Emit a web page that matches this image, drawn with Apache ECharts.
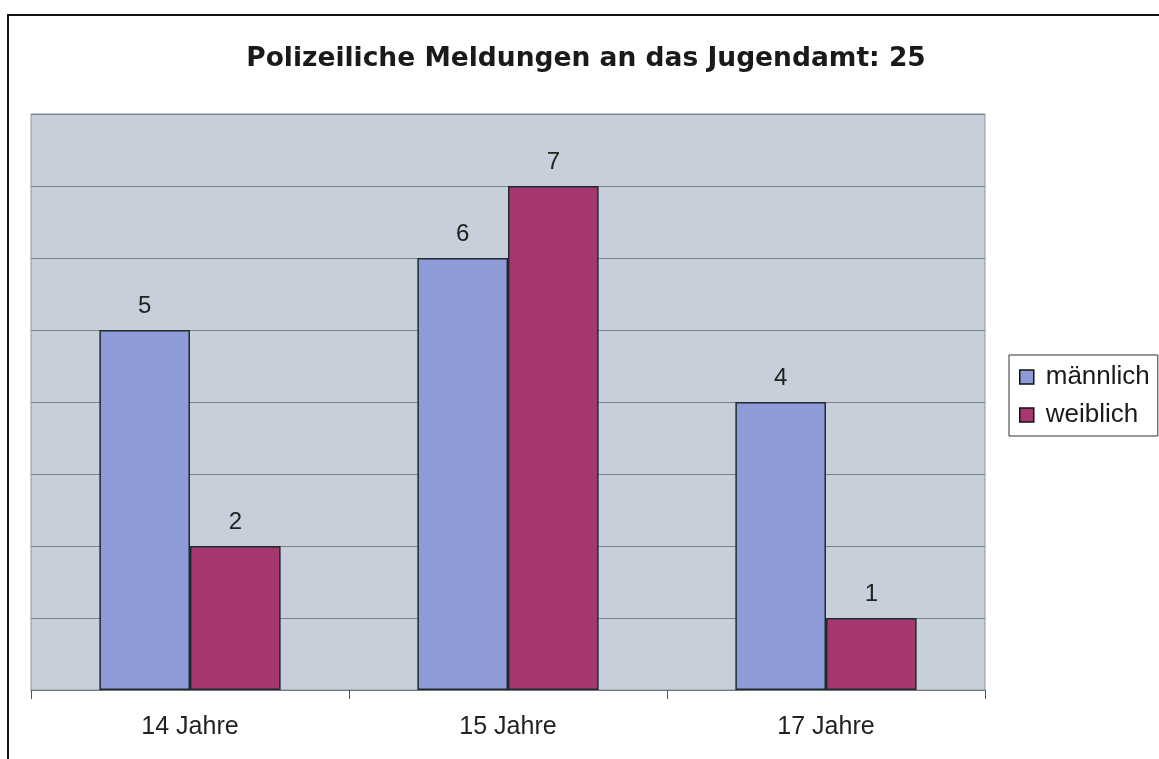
<!DOCTYPE html>
<html>
<head>
<meta charset="UTF-8">
<title>Polizeiliche Meldungen</title>
<style>
  html, body { margin: 0; padding: 0; background: #fff; }
  #main { width: 1159px; height: 759px; }
</style>
</head>
<body>
<div id="main"></div>
<script src="https://cdn.jsdelivr.net/npm/echarts@6/dist/echarts.min.js"></script>
<script>
// Daten
var kategorien = ['14 Jahre', '15 Jahre', '17 Jahre'];
var maennlich = [5, 6, 4];
var weiblich = [2, 7, 1];

var myChart = echarts.init(document.getElementById('main'));

var labelStyle = {
    show: true,
    position: 'top',
    distance: 12,
    fontFamily: 'Liberation Sans, Arial, sans-serif',
    fontSize: 24,
    color: '#222'
};

var option = {
    backgroundColor: '#fff',
    animation: false,
    title: {
        text: 'Polizeiliche Meldungen an das Jugendamt: 25',
        left: 581,
        textAlign: 'center',
        top: 41,
        textStyle: {
            fontFamily: 'DejaVu Sans, sans-serif',
            fontSize: 26.5,
            fontWeight: 'bold',
            color: '#1a1a1a'
        }
    },
    legend: {
        orient: 'vertical',
        left: 1009,
        top: 355,
        icon: 'rect',
        itemWidth: 14,
        itemHeight: 14,
        itemGap: 12,
        padding: [9, 8, 8, 10],
        borderColor: '#333',
        borderWidth: 1,
        backgroundColor: '#fff',
        textStyle: {
            fontFamily: 'Liberation Sans, Arial, sans-serif',
            fontSize: 26,
            color: '#1a1a1a',
            padding: [0, 0, 0, 7]
        },
        data: [
            { name: 'männlich', itemStyle: { borderColor: '#111', borderWidth: 1.5 } },
            { name: 'weiblich', itemStyle: { borderColor: '#111', borderWidth: 1.5 } }
        ]
    },
    graphic: [{
        type: 'rect',
        shape: { x: 8, y: 15, width: 1300, height: 900 },
        style: { fill: 'none', stroke: '#111', lineWidth: 2 },
        silent: true
    }],
    grid: {
        left: 31,
        right: 174,
        top: 114,
        bottom: 69,
        show: true,
        backgroundColor: '#c7d0da',
        borderColor: '#8d979f',
        borderWidth: 1
    },
    xAxis: {
        type: 'category',
        data: kategorien,
        axisLine: { show: true, lineStyle: { color: '#6f767c', width: 1 } },
        axisTick: { show: true, length: 9, lineStyle: { color: '#555' } },
        axisLabel: {
            margin: 25,
            fontFamily: 'Liberation Sans, Arial, sans-serif',
            fontSize: 25,
            color: '#222'
        }
    },
    yAxis: {
        type: 'value',
        min: 0,
        max: 8,
        interval: 1,
        axisLine: { show: false },
        axisTick: { show: false },
        axisLabel: { show: false },
        splitLine: { lineStyle: { color: '#78828a', width: 1 } }
    },
    series: [
        {
            name: 'männlich',
            type: 'bar',
            data: maennlich,
            barGap: '0%',
            barCategoryGap: '43%',
            itemStyle: { color: '#8e9bd6', borderColor: '#1e2b2e', borderWidth: 1.5 },
            label: labelStyle
        },
        {
            name: 'weiblich',
            type: 'bar',
            data: weiblich,
            itemStyle: { color: '#a6386f', borderColor: '#1e2b2e', borderWidth: 1.5 },
            label: labelStyle
        }
    ]
};

myChart.setOption(option);
</script>
</body>
</html>
